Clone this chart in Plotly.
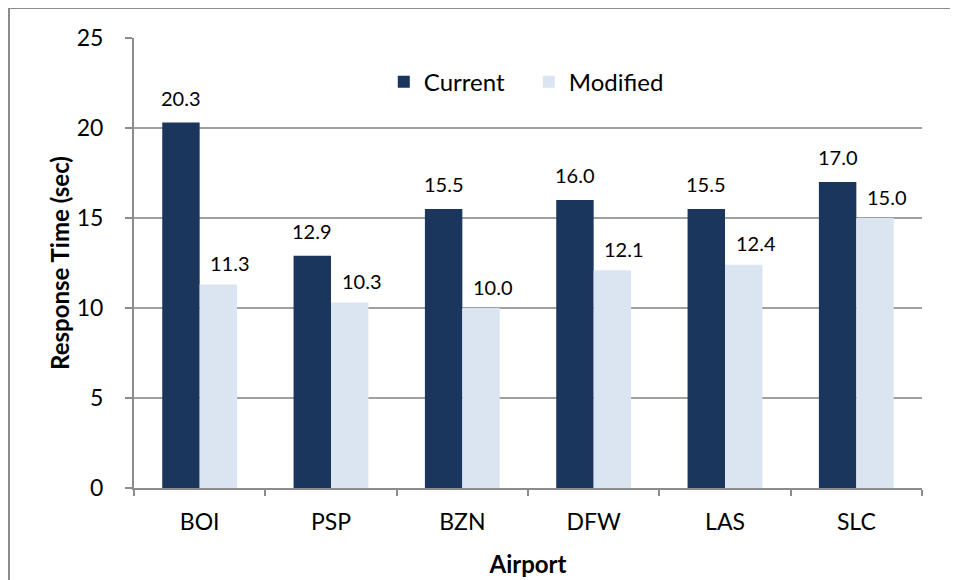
import plotly.graph_objects as go

airports = ["BOI", "PSP", "BZN", "DFW", "LAS", "SLC"]
current = [20.3, 12.9, 15.5, 16.0, 15.5, 17.0]
modified = [11.3, 10.3, 10.0, 12.1, 12.4, 15.0]
y_ticks = [0, 5, 10, 15, 20, 25]

FONT = "Lato, 'Open Sans', sans-serif"
DARK = "#1b365d"
LIGHT = "#dbe5f1"

fig = go.Figure()
fig.add_trace(go.Bar(x=airports, y=current, name="Current",
                     marker=dict(color=DARK, line=dict(width=0))))
fig.add_trace(go.Bar(x=airports, y=modified, name="Modified",
                     marker=dict(color=LIGHT, line=dict(width=0))))

# data labels placed via the axes' own scales
BAR_HALF = 18.7
annotations = []
for vals, sh, lift in ((current, -BAR_HALF, 25), (modified, BAR_HALF + 12, 21.5)):
    for a, v in zip(airports, vals):
        annotations.append(dict(x=a, y=v, xref="x", yref="y", text=f"{v:.1f}",
                                showarrow=False, xshift=sh, yanchor="middle", yshift=lift,
                                font=dict(size=20, family=FONT, color="#000000")))

fig.update_layout(
    width=958, height=580,
    margin=dict(l=126, r=44, t=30, b=100),
    paper_bgcolor="white", plot_bgcolor="white",
    barmode="group", bargap=0.43, bargroupgap=0,
    font=dict(family=FONT, color="#000000"),
    showlegend=True,
    legend=dict(orientation="h", x=0.501, y=0.902, xanchor="center", yanchor="middle",
                font=dict(size=24, family=FONT), bgcolor="rgba(0,0,0,0)",
                traceorder="normal", itemwidth=30, entrywidth=100),
    xaxis=dict(
        showline=True, linecolor="#8c8c8c", linewidth=2,
        ticks="outside", tickcolor="#8c8c8c", ticklen=6, tickwidth=2,
        tickson="boundaries", showgrid=False,
        tickfont=dict(size=23, family=FONT), ticklabelstandoff=12,
        title=dict(text="<b>Airport</b>", font=dict(size=24, family=FONT), standoff=23),
    ),
    yaxis=dict(
        range=[0, 25], tickvals=y_ticks,
        showline=True, linecolor="#8c8c8c", linewidth=2,
        ticks="outside", tickcolor="#8c8c8c", ticklen=7, tickwidth=2,
        showgrid=True, gridcolor="#a0a0a0", gridwidth=2,
        zeroline=False,
        tickfont=dict(size=23, family=FONT), ticklabelstandoff=17,
        title=dict(text="<b>Response Time (sec)</b>", font=dict(size=24, family=FONT), standoff=0),
    ),
    annotations=annotations,
    shapes=[dict(type="rect", xref="paper", yref="paper",
                 x0=(9 - 134) / 788, x1=1.2, y0=-0.3, y1=(488 - 8) / 450,
                 line=dict(color="#8c8c8c", width=2), fillcolor="rgba(0,0,0,0)", layer="below")],
)

fig.write_html("out.html")
